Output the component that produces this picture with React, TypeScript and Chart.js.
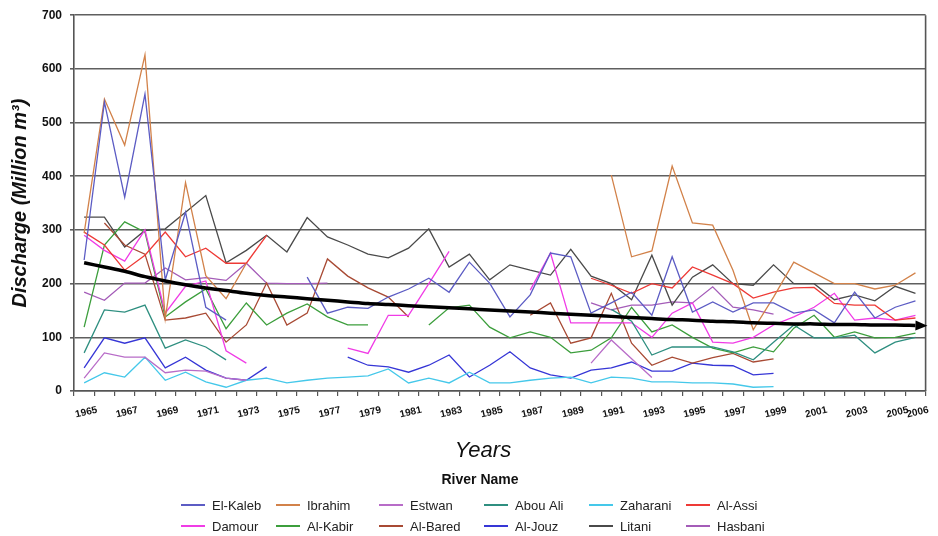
import { useEffect, useRef } from 'react';
import { Chart, registerables } from 'chart.js';

Chart.register(...registerables);

const _ = null;

const YEARS = [
  '1965', '1966', '1967', '1968', '1969', '1970', '1971', '1972', '1973', '1974',
  '1975', '1976', '1977', '1978', '1979', '1980', '1981', '1982', '1983', '1984',
  '1985', '1986', '1987', '1988', '1989', '1990', '1991', '1992', '1993', '1994',
  '1995', '1996', '1997', '1998', '1999', '2000', '2001', '2002', '2003', '2004',
  '2005', '2006',
];

// Annual discharge, million m3, one value per year 1965..2006 (null = no record)
const EL_KALEB = [244, 538, 361, 553, 207, 333, 156, 132, _, _, _, 212, 145, 156, 154, 175, 190, 210, 184, 240, 201, 138, 179, 257, 250, 145, 164, 184, 141, 250, 147, 166, 147, 164, 164, 145, 151, 127, 184, 136, 156, 168];
const IBRAHIM = [294, 544, 458, 626, 135, 388, 215, 172, 238, _, _, _, _, _, _, _, _, _, _, _, _, _, _, _, _, _, 402, 250, 261, 419, 313, 309, 225, 114, 175, 240, 220, 200, 200, 190, 197, 220];
const ESTWAN = [24, 71, 63, 63, 34, 39, 37, 24, 20, _, _, _, _, _, _, _, _, _, _, _, _, _, _, _, _, 52, 95, 60, 25, _, _, _, _, _, _, _, _, _, _, _, _, _];
const ABOU_ALI = [71, 151, 147, 160, 80, 95, 82, 58, _, _, _, _, _, _, _, _, _, _, _, _, _, _, _, _, _, _, 152, 130, 67, 82, 82, 82, 73, 58, 91, 123, 99, 99, 104, 71, 91, 100];
const ZAHARANI = [15, 34, 26, 63, 20, 35, 17, 7, 20, 24, 15, 20, 24, 26, 28, 41, 15, 24, 15, 35, 15, 15, 20, 24, 26, 15, 26, 24, 17, 17, 15, 15, 13, 7, 8, _, _, _, _, _, _, _];
const AL_ASSI = [296, 272, 225, 253, 296, 250, 266, 238, 238, 290, _, _, _, _, _, _, _, _, _, _, _, _, _, _, _, 210, 197, 182, 200, 192, 231, 216, 200, 173, 184, 192, 193, 163, 160, 160, 132, 136];
const DAMOUR = [290, 262, 242, 300, 145, 195, 205, 75, 52, _, _, _, _, 80, 70, 141, 141, 200, 260, _, _, _, 188, 257, 127, 127, 127, 127, 100, 145, 164, 91, 89, 100, 123, 138, 156, 182, 132, 136, 132, 141];
const AL_KABIR = [119, 272, 315, 296, 138, 166, 190, 116, 164, 123, 145, 162, 138, 123, 123, _, _, 123, 155, 160, 119, 99, 110, 100, 71, 76, 99, 156, 110, 123, 100, 80, 71, 82, 73, 117, 141, 100, 110, 99, 100, 108];
const AL_BARED = [_, 313, 272, 255, 132, 136, 145, 91, 123, 201, 123, 145, 246, 214, 192, 175, 138, _, _, _, _, _, 141, 164, 89, 99, 182, 89, 48, 63, 52, 62, 70, 54, 60, _, _, _, _, _, _, _];
const AL_JOUZ = [43, 99, 89, 99, 43, 63, 39, 24, 20, 45, _, _, _, 63, 48, 45, 35, 48, 67, 26, 48, 73, 43, 30, 24, 39, 43, 54, 37, 37, 52, 48, 47, 30, 33, _, _, _, _, _, _, _];
const LITANI = [324, 324, 268, 299, 302, 333, 364, 239, 262, 290, 259, 323, 287, 272, 255, 248, 266, 302, 231, 255, 207, 235, 225, 216, 264, 214, 200, 170, 253, 160, 212, 235, 200, 197, 235, 200, 200, 170, 179, 168, 195, 182];
const HASBANI = [184, 169, 201, 201, 229, 207, 211, 206, 238, 201, 200, 200, 201, _, _, _, _, _, _, _, _, _, _, _, _, 164, 151, 160, 160, 166, 164, 194, 156, 151, 143, _, _, _, _, _, _, _];

// Declining trend across all rivers
const TREND = [239, 231, 223, 213, 205, 198, 192, 187, 182, 178, 175, 172, 169, 166, 163, 161, 159, 157, 155, 153, 151, 149, 147, 145, 143, 141, 139, 137, 135, 133, 132, 130, 129, 127, 126, 125, 125, 124, 124, 123, 123, 122];

const RIVERS = [
  { name: 'El-Kaleb', data: EL_KALEB, color: '#5c5cc4' },
  { name: 'Ibrahim', data: IBRAHIM, color: '#d2824a' },
  { name: 'Estwan', data: ESTWAN, color: '#b86cc8' },
  { name: 'Abou Ali', data: ABOU_ALI, color: '#2f8f80' },
  { name: 'Zaharani', data: ZAHARANI, color: '#45c8ea' },
  { name: 'Al-Assi', data: AL_ASSI, color: '#ee3a36' },
  { name: 'Damour', data: DAMOUR, color: '#f03ce6' },
  { name: 'Al-Kabir', data: AL_KABIR, color: '#3c9e3c' },
  { name: 'Al-Bared', data: AL_BARED, color: '#a84a34' },
  { name: 'Al-Jouz', data: AL_JOUZ, color: '#3636d6' },
  { name: 'Litani', data: LITANI, color: '#4a4a4a' },
  { name: 'Hasbani', data: HASBANI, color: '#a45cb8' },
];

const Y_TITLE = 'Discharge (Million m\u00b3)';
const X_TITLE = 'Years';
const LEGEND_TITLE = 'River Name';
const FONT = '"Liberation Sans", Arial, sans-serif';

// Right frame line of the plot area
const framePlugin = {
  id: 'frame',
  beforeDatasetsDraw(chart: any) {
    const { ctx, chartArea } = chart;
    ctx.save();
    ctx.strokeStyle = '#555';
    ctx.lineWidth = 1.6;
    ctx.beginPath();
    ctx.moveTo(chartArea.right, chartArea.top);
    ctx.lineTo(chartArea.right, chartArea.bottom);
    ctx.stroke();
    ctx.restore();
  },
};

// Arrowhead at the end of the trend line
const arrowPlugin = {
  id: 'trendArrow',
  afterDatasetsDraw(chart: any) {
    const meta = chart.getDatasetMeta(0);
    const pts = meta.data;
    if (!pts || pts.length < 2) return;
    const a = pts[pts.length - 2];
    const b = pts[pts.length - 1];
    const ang = Math.atan2(b.y - a.y, b.x - a.x);
    const len = 12;
    const half = 5;
    const { ctx } = chart;
    ctx.save();
    ctx.fillStyle = '#000';
    ctx.beginPath();
    ctx.moveTo(b.x + Math.cos(ang) * len, b.y + Math.sin(ang) * len);
    ctx.lineTo(b.x - Math.sin(ang) * half, b.y + Math.cos(ang) * half);
    ctx.lineTo(b.x + Math.sin(ang) * half, b.y - Math.cos(ang) * half);
    ctx.closePath();
    ctx.fill();
    ctx.restore();
  },
};

// Axis title under the year labels and the two-row river legend
const legendPlugin = {
  id: 'riverLegend',
  afterDraw(chart: any) {
    const { ctx } = chart;
    ctx.save();
    ctx.fillStyle = '#111';
    ctx.textBaseline = 'middle';
    ctx.textAlign = 'center';
    ctx.font = `italic 22px ${FONT}`;
    ctx.fillText(X_TITLE, 483, 451);
    ctx.font = `bold 14px ${FONT}`;
    ctx.fillText(LEGEND_TITLE, 480, 480);

    const cols = [181, 276, 379, 484, 589, 686];
    const rows = [505, 526];
    ctx.font = `13px ${FONT}`;
    ctx.textAlign = 'left';
    RIVERS.forEach((r, i) => {
      const x = cols[i % 6];
      const y = rows[Math.floor(i / 6)];
      ctx.strokeStyle = r.color;
      ctx.lineWidth = 2;
      ctx.beginPath();
      ctx.moveTo(x, y);
      ctx.lineTo(x + 24, y);
      ctx.stroke();
      ctx.fillStyle = '#222';
      ctx.fillText(r.name, x + 31, y + 1);
    });
    ctx.restore();
  },
};

export default function App() {
  const canvasRef = useRef<HTMLCanvasElement | null>(null);

  useEffect(() => {
    if (!canvasRef.current) return;
    const datasets: any[] = [
      {
        label: 'Trend',
        data: TREND,
        borderColor: '#000',
        borderWidth: 3.5,
        pointRadius: 0,
        tension: 0.3,
      },
      ...RIVERS.map((r) => ({
        label: r.name,
        data: r.data,
        borderColor: r.color,
        backgroundColor: r.color,
        borderWidth: 1.3,
        pointRadius: 0,
        spanGaps: false,
        tension: 0,
      })),
    ];

    const chart = new Chart(canvasRef.current, {
      type: 'line',
      data: { labels: YEARS, datasets },
      options: {
        animation: false,
        responsive: true,
        maintainAspectRatio: false,
        layout: { padding: { top: 15, right: 12.4, bottom: 0, left: 0 } },
        plugins: {
          legend: { display: false },
          tooltip: { enabled: false },
        },
        scales: {
          x: {
            type: 'category',
            offset: true,
            grid: {
              display: true,
              offset: true,
              drawOnChartArea: false,
              drawTicks: true,
              tickLength: 5,
              color: '#555',
              lineWidth: 1.2,
            },
            border: { display: true, color: '#555', width: 1.6 },
            ticks: {
              autoSkip: false,
              minRotation: 13,
              maxRotation: 13,
              labelOffset: 13,
              padding: 8,
              color: '#111',
              font: { family: FONT, size: 10, weight: 'bold' },
              callback: (_v: any, index: number) => {
                const y = YEARS[index];
                return index % 2 === 0 || y === '2006' ? y : '';
              },
            },
            afterFit: (scale: any) => {
              scale.height = 145;
            },
          },
          y: {
            min: 0,
            max: 700,
            grid: { color: '#5f5f5f', lineWidth: 1.6, tickLength: 4 },
            border: { display: true, color: '#555', width: 1.6 },
            ticks: {
              stepSize: 100,
              padding: 8,
              color: '#111',
              font: { family: FONT, size: 12, weight: 'bold' },
            },
            title: {
              display: true,
              text: Y_TITLE,
              color: '#111',
              padding: { top: 8, bottom: 0 },
              font: { family: FONT, size: 20, weight: 'bold', style: 'italic' },
            },
            afterFit: (scale: any) => {
              scale.width = 74;
            },
          },
        },
      },
      plugins: [framePlugin, arrowPlugin, legendPlugin],
    });

    return () => chart.destroy();
  }, []);

  return (
    <div style={{ position: 'fixed', left: 0, top: 0, width: 938, height: 536, background: '#fff' }}>
      <canvas ref={canvasRef} />
    </div>
  );
}
